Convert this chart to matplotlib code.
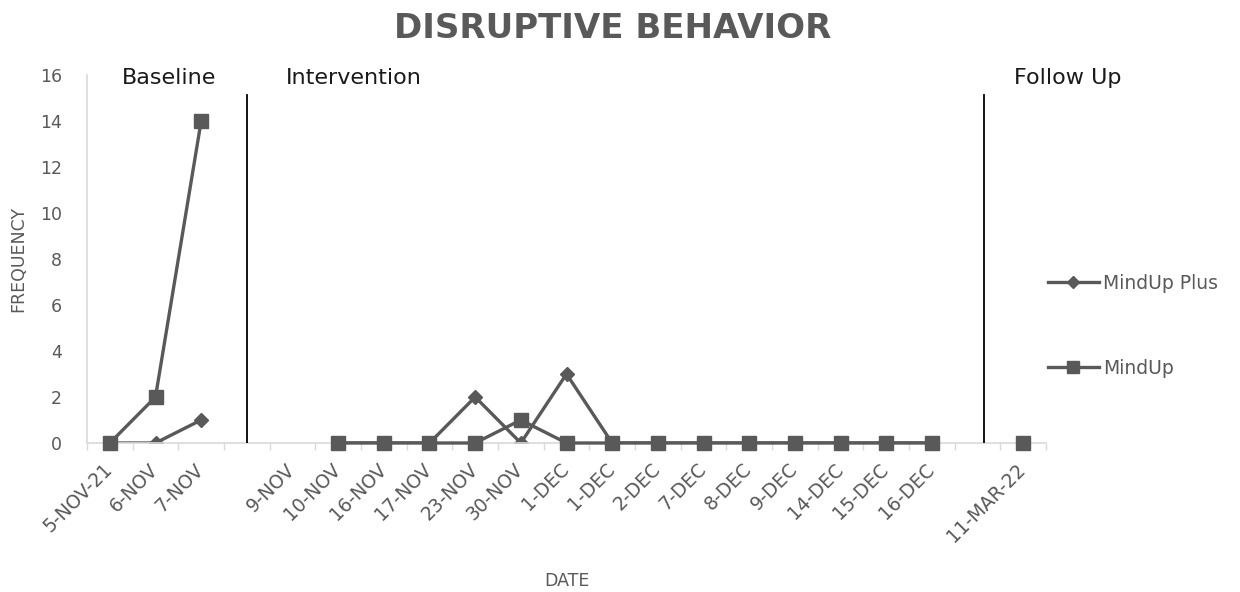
import numpy as np
import matplotlib.pyplot as plt
import matplotlib.transforms as mtransforms
from matplotlib.lines import Line2D

# 日期类别（空字符串为阶段之间的空位）
dates = ["5-NOV-21", "6-NOV", "7-NOV", "", "9-NOV", "10-NOV", "16-NOV", "17-NOV",
         "23-NOV", "30-NOV", "1-DEC", "1-DEC", "2-DEC", "7-DEC", "8-DEC", "9-DEC",
         "14-DEC", "15-DEC", "16-DEC", "", "11-MAR-22"]
nan = np.nan
# 两组的问题行为频次
mindup_plus = [0, 0, 1, nan, nan, 0, 0, 0, 2, 0, 3, 0, 0, 0, 0, 0, 0, 0, 0, nan, 0]
mindup = [0, 2, 14, nan, nan, 0, 0, 0, 0, 1, 0, 0, 0, 0, 0, 0, 0, 0, 0, nan, 0]
phases = ["Baseline", "Intervention", "Follow Up"]

plt.rcParams["font.family"] = ["DejaVu Sans"]
grey = "#595959"

fig = plt.figure(figsize=(12.4, 5.92), dpi=100)
ax = fig.add_axes([87 / 1240, 1 - 443 / 592, (1046 - 87) / 1240, 368 / 592])

x = np.arange(len(dates))
ax.plot(x, mindup_plus, color=grey, lw=2.4, marker="D", ms=7, mfc=grey, mec=grey,
        label="MindUp Plus", zorder=2)
ax.plot(x, mindup, color=grey, lw=2.4, marker="s", ms=10.5, mfc=grey, mec=grey,
        label="MindUp", zorder=3, clip_on=False)

# 阶段分隔线
for px in (3, 19.15):
    ax.plot([px, px], [0, 15.13], color="black", lw=1.3, zorder=4)

# 阶段标签
for txt, px in zip(phases, (0.27, 3.86, 19.79)):
    ax.text(px, 15.85, txt, fontsize=16, color="#1a1a1a", ha="left", va="center")

ax.set_xlim(-0.5, len(dates) - 0.5)
ax.set_ylim(0, 16)
ax.set_yticks(range(0, 17, 2))
ax.set_xticks(x)
ax.set_xticklabels(dates, rotation=45, ha="right", rotation_mode="anchor",
                   fontsize=13.5, color=grey)
ax.set_xticks(np.arange(-0.5, len(dates), 1), minor=True)
ax.tick_params(axis="x", which="major", length=0, pad=12)
ax.tick_params(axis="x", which="minor", length=5, color="#d9d9d9", width=1)
ax.tick_params(axis="y", length=0, labelsize=12.5, labelcolor=grey, pad=18)

# 日期标签整体左移一点
shift = mtransforms.ScaledTranslation(-7 / 100, 0, fig.dpi_scale_trans)
for lab in ax.get_xticklabels():
    lab.set_transform(lab.get_transform() + shift)

for s in ("top", "right"):
    ax.spines[s].set_visible(False)
for s in ("left", "bottom"):
    ax.spines[s].set_color("#d9d9d9")
    ax.spines[s].set_linewidth(1.2)

ax.set_ylabel("FREQUENCY", fontsize=12.5, color=grey)
ax.yaxis.set_label_coords(-0.062, 0.5)
ax.set_xlabel("DATE", fontsize=12.5, color=grey)
ax.xaxis.set_label_coords(0.5, -0.35)

fig.text(0.494, 1 - 29 / 592, "DISRUPTIVE BEHAVIOR", fontsize=24.5, fontweight="bold",
         color=grey, ha="center", va="center")

handles = [Line2D([], [], color=grey, lw=2.4, marker="D", ms=6),
           Line2D([], [], color=grey, lw=2.4, marker="s", ms=9)]
fig.legend(handles, ["MindUp Plus", "MindUp"], loc="upper left",
           bbox_to_anchor=(1048 / 1240, 1 - 274 / 592), frameon=False,
           fontsize=13.5, labelcolor=grey, handlelength=2.7, handletextpad=0.25,
           labelspacing=3.5, borderpad=0, borderaxespad=0)

fig.savefig("out.png", dpi=100)
